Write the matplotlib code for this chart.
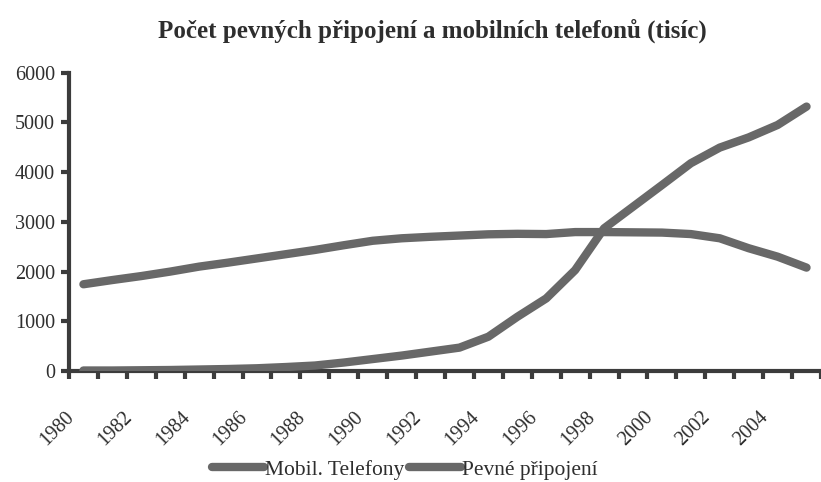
import numpy as np
import matplotlib.pyplot as plt
from matplotlib.transforms import ScaledTranslation

plt.rcParams['font.family'] = ['Liberation Serif', 'DejaVu Serif']

years = list(range(1980, 2006))
mobil = [10, 10, 15, 20, 30, 40, 55, 80, 110, 170, 240, 310,
         390, 470, 690, 1090, 1460, 2030, 2870, 3305, 3740, 4180,
         4495, 4700, 4950, 5320]
pevne = [1745, 1830, 1910, 2000, 2100, 2180, 2265, 2350, 2435, 2530,
         2620, 2670, 2700, 2725, 2750, 2760, 2755, 2795, 2795, 2790,
         2785, 2755, 2670, 2470, 2300, 2080]

line_col = '#686868'
axis_col = '#3c3c3c'
text_col = '#2e2e2e'

fig = plt.figure(figsize=(8.21, 4.82), dpi=100)
ax = fig.add_axes([0.084, 0.2303, 0.916, 0.6187])

x = np.arange(len(years))
ax.plot(x, mobil, color=line_col, lw=6, solid_capstyle='round',
        solid_joinstyle='round', label='Mobil. Telefony')
ax.plot(x, pevne, color=line_col, lw=6, solid_capstyle='round',
        solid_joinstyle='round', label='Pevné připojení')

ax.set_xlim(-0.5, 25.4)
ax.set_ylim(0, 6000)
ax.set_yticks(range(0, 6001, 1000))

ax.set_xticks(x[::2])
ax.set_xticklabels([str(y) for y in years[::2]], rotation=45, ha='right',
                   va='center', rotation_mode='anchor', fontsize=14.5)
ax.set_xticks(np.arange(-0.5, 26, 1), minor=True)
ax.tick_params(axis='x', which='major', length=0, pad=31)
ax.tick_params(axis='x', which='minor', length=6, width=3, color=axis_col,
               direction='out')
ax.tick_params(axis='y', length=6, width=3, color=axis_col, direction='out',
               pad=4, labelsize=14.5)
ax.tick_params(labelcolor=text_col)

# shift the year labels to the left, like the original
shift = ScaledTranslation(-12 / 100, 0, fig.dpi_scale_trans)
for lab in ax.get_xticklabels():
    lab.set_transform(lab.get_transform() + shift)

for side in ['top', 'right']:
    ax.spines[side].set_visible(False)
for side in ['left', 'bottom']:
    ax.spines[side].set_linewidth(3)
    ax.spines[side].set_color(axis_col)
    ax.spines[side].set_zorder(1)

fig.text(0.527, 0.937, 'Počet pevných připojení a mobilních telefonů (tisíc)',
         ha='center', va='center', fontsize=18, fontweight='bold',
         color=text_col)

fig.legend(loc='lower center', bbox_to_anchor=(0.493, -0.036), ncol=2,
           frameon=False, fontsize=15.5, handlelength=2.4, handletextpad=0.05,
           columnspacing=0.25, labelcolor=text_col)

fig.savefig('out.png', dpi=100)
